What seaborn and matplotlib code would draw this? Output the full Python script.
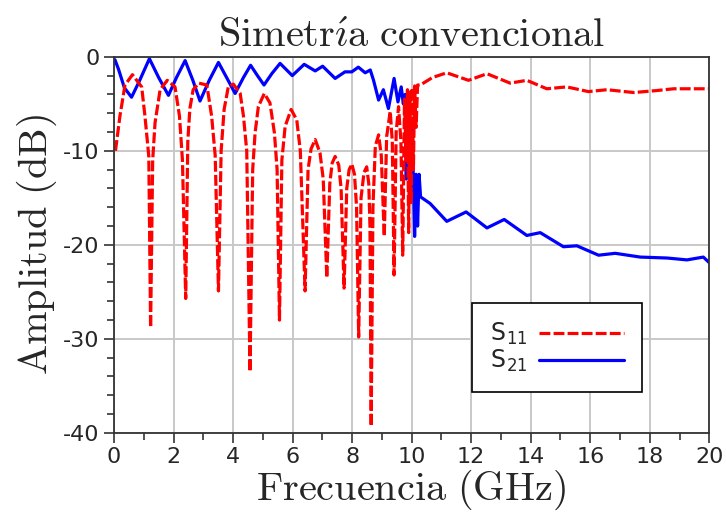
import matplotlib

matplotlib.use("Agg")
import matplotlib.pyplot as plt
import pandas as pd
import seaborn as sns
from matplotlib.lines import Line2D
from matplotlib.ticker import MultipleLocator


# S11 (reflection), GHz / dB
s11_freq = [
    0.05, 0.2, 0.37, 0.62, 0.93, 1.04, 1.17, 1.23, 1.30, 1.38, 1.55, 1.79,
    2.05, 2.20, 2.30, 2.41, 2.48, 2.55, 2.66, 2.85, 3.12, 3.28, 3.40, 3.51,
    3.60, 3.70, 3.84, 4.01, 4.24, 4.35, 4.46, 4.57, 4.66, 4.74, 4.85, 5.05,
    5.24, 5.39, 5.48, 5.56, 5.64, 5.75, 5.95, 6.14, 6.26, 6.42, 6.52, 6.62,
    6.76, 6.92, 7.03, 7.15, 7.25, 7.33, 7.43, 7.55, 7.63, 7.73, 7.82, 7.90,
    7.99, 8.08, 8.15, 8.22, 8.30, 8.40, 8.49, 8.56, 8.60, 8.64, 8.70, 8.78,
    8.89, 8.98, 9.08, 9.16, 9.28, 9.35, 9.41, 9.48, 9.56, 9.64, 9.70, 9.76,
    9.82, 9.86, 9.90, 9.94, 9.98, 10.02, 10.06, 10.10, 10.15, 10.20, 10.29,
    10.70, 11.18, 11.91, 12.53, 13.31, 13.87, 14.54, 15.21, 15.94, 16.56,
    17.46, 18.20, 18.80, 19.40, 20.0,
]
s11_db = [
    -10.0, -6.3, -3.0, -1.9, -3.2, -6.3, -10.6, -28.8, -11.0, -7.0, -3.5, -2.5,
    -3.2, -6.3, -11.0, -25.7, -9.0, -5.5, -3.5, -2.8, -3.0, -6.3, -10.5, -24.9,
    -10.0, -5.6, -3.2, -2.9, -3.9, -6.3, -10.0, -33.5, -12.0, -8.1, -5.3, -3.9,
    -4.9, -8.1, -12.0, -28.0, -11.0, -7.4, -5.6, -6.7, -10.0, -24.9, -12.0, -9.8,
    -8.8, -10.2, -13.0, -23.5, -13.5, -11.3, -10.6, -11.5, -14.0, -24.6, -14.0, -12.0,
    -11.4, -12.5, -16.0, -29.8, -15.0, -12.3, -11.7, -13.5, -18.0, -39.3, -16.0, -9.5,
    -8.3, -10.5, -19.1, -8.5, -5.8, -9.0, -23.2, -8.0, -5.3, -9.0, -21.1, -4.5,
    -11.0, -3.5, -18.7, -3.6, -15.5, -3.3, -12.0, -3.1, -7.5, -3.0, -3.0,
    -2.2, -1.7, -2.5, -1.8, -2.8, -2.5, -3.4, -3.2, -3.7, -3.5,
    -3.8, -3.6, -3.4, -3.4, -3.4,
]

# S21 (transmission)
s21_freq = [
    0.03, 0.15, 0.35, 0.59, 0.85, 1.19, 1.50, 1.83, 2.10, 2.39, 2.65, 2.89,
    3.20, 3.51, 3.80, 4.07, 4.35, 4.59, 4.82, 5.04, 5.30, 5.58, 5.99, 6.39,
    6.76, 7.01, 7.43, 7.76, 7.99, 8.21, 8.44, 8.61, 8.72, 8.89, 9.05, 9.22,
    9.41, 9.54, 9.65, 9.72, 9.78, 9.82, 9.86, 9.92, 9.98, 10.05, 10.10, 10.15,
    10.20, 10.25, 10.30, 10.62, 11.18, 11.83, 12.53, 13.11, 13.87, 14.32, 15.10,
    15.55, 16.28, 16.84, 17.68, 18.58, 19.25, 19.80, 20.0,
]
s21_db = [
    -0.3, -1.3, -3.3, -4.3, -2.6, -0.2, -2.2, -4.1, -2.2, -0.4, -2.5, -4.7,
    -2.5, -0.6, -2.3, -3.9, -2.2, -0.9, -2.0, -3.0, -1.8, -0.7, -2.0, -0.8,
    -1.5, -1.0, -2.3, -1.6, -1.6, -1.1, -1.7, -1.4, -2.5, -4.6, -3.5, -5.5,
    -2.3, -4.8, -3.2, -5.0, -4.0, -13.0, -6.0, -9.0, -7.0, -12.0, -19.1, -12.5,
    -18.0, -12.5, -14.9, -15.6, -17.5, -16.5, -18.2, -17.3, -19.0, -18.7, -20.2,
    -20.1, -21.1, -20.9, -21.3, -21.4, -21.6, -21.3, -21.9,
]

x_ticks = list(range(0, 21, 2))
y_ticks = [0, -10, -20, -30, -40]
legend_labels = [r"S$_{\mathregular{11}}$", r"S$_{\mathregular{21}}$"]

sns.set_style("ticks")
plt.rcParams["font.family"] = ["DejaVu Sans"]
plt.rcParams["mathtext.fontset"] = "cm"
plt.rcParams["axes.unicode_minus"] = False

df11 = pd.DataFrame({"f": s11_freq, "db": s11_db})
df21 = pd.DataFrame({"f": s21_freq, "db": s21_db})

fig = plt.figure(figsize=(7.26, 5.26), dpi=100)
ax = fig.add_axes([0.157, 0.177, 0.82, 0.715])

sns.lineplot(data=df21, x="f", y="db", ax=ax, color="#0000ff", lw=2.3,
             sort=False, estimator=None)
sns.lineplot(data=df11, x="f", y="db", ax=ax, color="#ff0000", lw=2.3,
             sort=False, estimator=None)
ax.lines[-1].set_dashes([3.4, 1.0])
ax.lines[-1].set_dash_capstyle("butt")

ax.set_xlim(0, 20)
ax.set_ylim(-40, 0)
ax.set_xticks(x_ticks)
ax.set_yticks(y_ticks)
ax.set_xticklabels([str(t) for t in x_ticks])
ax.set_yticklabels([str(t) for t in y_ticks])
ax.xaxis.set_minor_locator(MultipleLocator(1))
ax.yaxis.set_minor_locator(MultipleLocator(2))
ax.tick_params(which="major", direction="out", length=7, width=1.1,
               labelsize=16, color="#222222")
ax.tick_params(which="minor", direction="out", length=5, width=1.1,
               color="#222222")
ax.grid(True, which="major", color="#c8c8c8", lw=1.4)
ax.set_axisbelow(True)
for sp in ax.spines.values():
    sp.set_color("#333333")
    sp.set_linewidth(1.3)

ax.set_title(r"$\mathrm{Simetr\acute{\imath}a\ convencional}$", fontsize=29, pad=7)
ax.set_xlabel(r"$\mathrm{Frecuencia\ (GHz)}$", fontsize=29, labelpad=0)
ax.set_ylabel(r"$\mathrm{Amplitud\ (dB)}$", fontsize=29, labelpad=3)

handles = [
    Line2D([], [], color="#ff0000", lw=2.3, dashes=[3.4, 1.0]),
    Line2D([], [], color="#0000ff", lw=2.3),
]
leg = ax.legend(handles, legend_labels, loc="lower left",
                bbox_to_anchor=(0.602, 0.109), markerfirst=False,
                fontsize=17, handlelength=3.6, handletextpad=0.5,
                labelspacing=0.05, borderpad=0.75, borderaxespad=0,
                fancybox=False, framealpha=1, edgecolor="black")
leg.get_frame().set_linewidth(1.2)

fig.savefig("out.png", dpi=100)
